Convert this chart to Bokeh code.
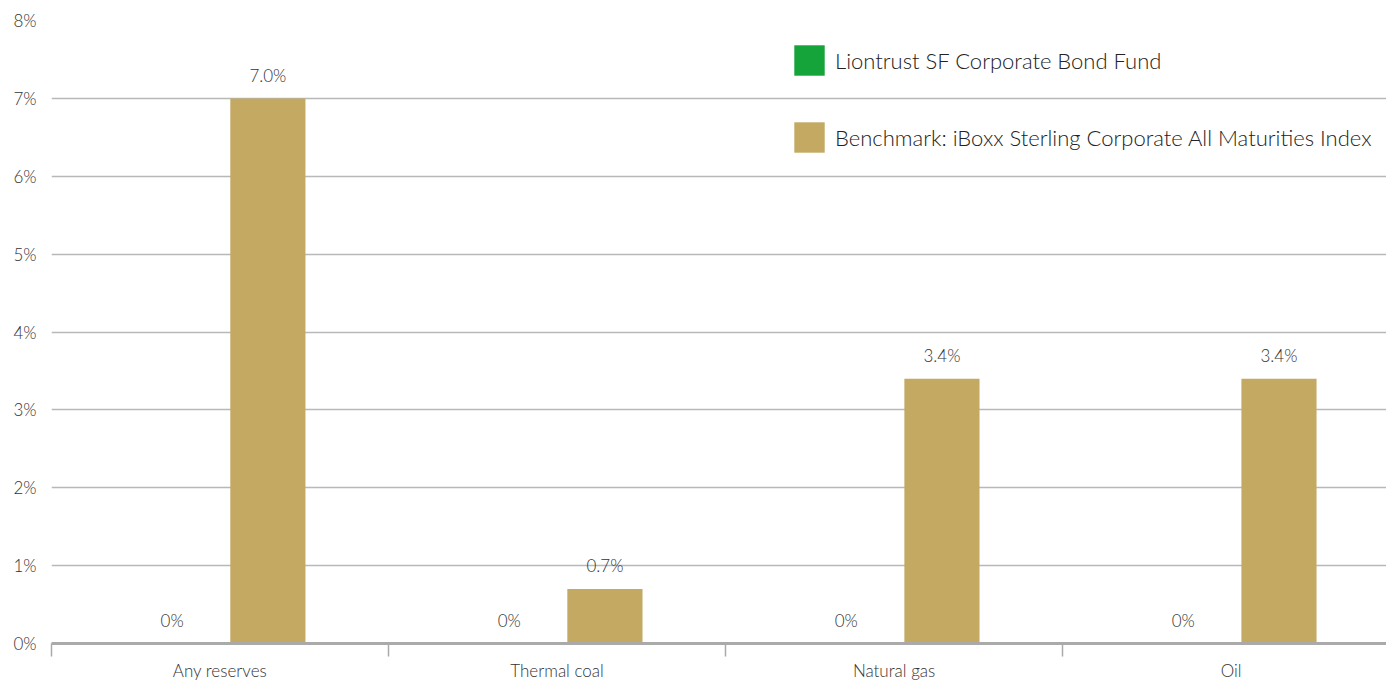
import numpy as np
from bokeh.plotting import figure
from bokeh.models import (ColumnDataSource, Range1d, FixedTicker, PrintfTickFormatter,
                          Legend, LegendItem)
from bokeh.core.properties import value
from bokeh.embed import file_html
from bokeh.resources import INLINE

categories = ["Any reserves", "Thermal coal", "Natural gas", "Oil"]
fund_values = [0.0, 0.0, 0.0, 0.0]
benchmark_values = [7.0, 0.7, 3.4, 3.4]
fund_name = "Liontrust SF Corporate Bond Fund"
benchmark_name = "Benchmark: iBoxx Sterling Corporate All Maturities Index"
y_ticks = [0, 1, 2, 3, 4, 5, 6, 7, 8]

FONT = "Lato Light, Lato"
TEXT_COLOR = "#333333"
FUND_COLOR = "#14a43a"
BENCH_COLOR = "#c3a962"
GRID_COLOR = "#b8b8b8"

centers = np.arange(len(categories)) + 0.5
offset = 0.142
bar_w = 0.223


def fmt(v):
    return "0%" if v == 0 else f"{v:.1f}%"


fund_src = ColumnDataSource(dict(x=centers - offset, top=fund_values,
                                 label=[fmt(v) for v in fund_values]))
bench_src = ColumnDataSource(dict(x=centers + offset, top=benchmark_values,
                                  label=[fmt(v) for v in benchmark_values]))

p = figure(width=1386, height=683, x_range=Range1d(0, 3.961), y_range=Range1d(0, 8),
           output_backend="svg", toolbar_location=None,
           min_border_left=51, min_border_right=0, min_border_top=20, min_border_bottom=40)
p.outline_line_color = None
p.background_fill_color = "white"
p.border_fill_color = "white"

r_fund = p.vbar(x="x", top="top", bottom=0, width=bar_w, source=fund_src,
                fill_color=FUND_COLOR, line_color=None)
r_bench = p.vbar(x="x", top="top", bottom=0, width=bar_w, source=bench_src,
                 fill_color=BENCH_COLOR, line_color=None)

for src in (fund_src, bench_src):
    p.text(x="x", y="top", text="label", source=src, text_align="center",
           text_baseline="middle", y_offset=-23, text_font=value(FONT),
           text_font_size="17px", text_color=TEXT_COLOR)

# grid
p.xgrid.grid_line_color = None
p.ygrid.ticker = FixedTicker(ticks=y_ticks)
p.ygrid.grid_line_color = GRID_COLOR
p.ygrid.grid_line_width = 1.5

# y axis
ya = p.yaxis[0]
ya.ticker = FixedTicker(ticks=y_ticks)
ya.formatter = PrintfTickFormatter(format="%d%%")
ya.axis_line_color = None
ya.major_tick_line_color = None
ya.minor_tick_line_color = None
ya.major_tick_out = 0
ya.major_tick_in = 0
ya.major_label_standoff = 15
ya.major_label_text_font = FONT
ya.major_label_text_font_size = "17px"
ya.major_label_text_color = TEXT_COLOR

# x axis: labels at category centres, separator ticks at boundaries
xa = p.xaxis[0]
xa.ticker = FixedTicker(ticks=list(centers), minor_ticks=list(range(len(categories) + 1)))
xa.major_label_overrides = {float(c): name for c, name in zip(centers, categories)}
xa.axis_line_color = "#aaaaaa"
xa.axis_line_width = 3
xa.major_tick_line_color = None
xa.major_tick_out = 13
xa.major_tick_in = 0
xa.minor_tick_line_color = "#aaaaaa"
xa.minor_tick_line_width = 1.5
xa.minor_tick_out = 13
xa.minor_tick_in = 0
xa.major_label_standoff = 3
xa.major_label_text_font = FONT
xa.major_label_text_font_size = "17px"
xa.major_label_text_color = TEXT_COLOR

legend = Legend(items=[LegendItem(label=fund_name, renderers=[r_fund]),
                       LegendItem(label=benchmark_name, renderers=[r_bench])],
                location=(739, 487), orientation="vertical",
                glyph_width=38, glyph_height=38, label_height=38,
                spacing=39, padding=0, margin=0, label_standoff=7,
                label_text_font=FONT, label_text_font_size="22px",
                label_text_color="#222222",
                border_line_color=None, background_fill_alpha=0)
p.add_layout(legend)

open("out.html", "w").write(file_html(p, INLINE))
